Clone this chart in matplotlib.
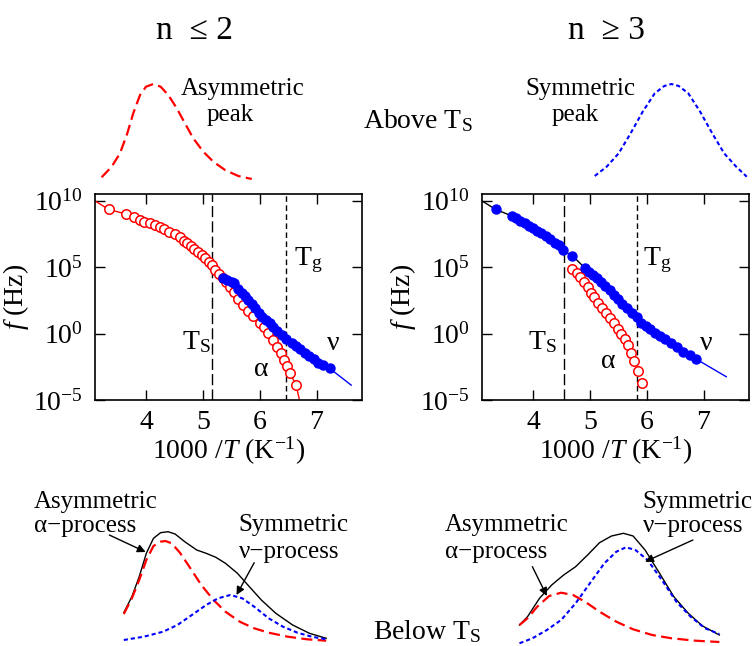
import matplotlib
matplotlib.use('Agg')
import matplotlib.pyplot as plt
import numpy as np

plt.rcParams['font.family'] = ['Liberation Serif', 'DejaVu Serif']
plt.rcParams['mathtext.fontset'] = 'custom'
plt.rcParams['mathtext.rm'] = 'Liberation Serif'
plt.rcParams['mathtext.it'] = 'Liberation Serif:italic'

# --- main panels: relaxation map, log10 f (Hz) vs 1000/T ---
# n <= 2 (left)
alpha_left_x = [3.34, 3.65, 3.78, 3.89, 3.97, 4.06, 4.15, 4.24, 4.32, 4.41, 4.50, 4.59, 4.67,
                4.72, 4.79, 4.85, 4.91, 4.98, 5.04, 5.11, 5.16, 5.22, 5.29, 5.35, 5.41, 5.47,
                5.54, 5.62, 5.71, 5.80, 5.89, 6.01, 6.08, 6.15, 6.23, 6.30, 6.37, 6.43, 6.48,
                6.53, 6.64]
alpha_left_logf = [9.34, 8.99, 8.74, 8.54, 8.41, 8.29, 8.16, 7.98, 7.84, 7.66, 7.48, 7.23, 6.98,
                   6.78, 6.58, 6.33, 6.15, 5.90, 5.65, 5.40, 5.15, 4.80, 4.50, 4.18, 3.85, 3.50,
                   3.10, 2.62, 2.14, 1.71, 1.31, 0.81, 0.46, 0.01, -0.49, -0.99, -1.49, -2.00,
                   -2.45, -2.95, -3.88]
alpha_left_fit_x = [3.10, 6.71]        # ends of the fit line beyond the data
alpha_left_fit_logf = [9.98, -5.20]

nu_left_x = [5.36, 5.43, 5.51, 5.55, 5.62, 5.68, 5.74, 5.80, 5.86, 5.92, 5.98, 6.04, 6.11,
             6.18, 6.24, 6.31, 6.39, 6.47, 6.56, 6.64, 6.71, 6.79, 6.87, 6.95, 7.03, 7.12, 7.23]
nu_left_logf = [4.15, 4.02, 3.89, 3.77, 3.32, 3.07, 2.82, 2.52, 2.22, 1.89, 1.56, 1.26, 1.01,
                0.76, 0.46, 0.21, -0.12, -0.44, -0.74, -0.94, -1.19, -1.45, -1.70, -1.95,
                -2.20, -2.37, -2.62]
nu_left_fit_x = [7.61]
nu_left_fit_logf = [-3.88]

ts_left, tg_left = 5.16, 6.46

# n >= 3 (right)
nu_right_x = [3.34, 3.63, 3.70, 3.77, 3.85, 3.92, 3.99, 4.07, 4.14, 4.22, 4.29, 4.38, 4.45,
              4.52, 4.69, 4.92, 4.99, 5.06, 5.12, 5.19, 5.27, 5.35, 5.42, 5.49, 5.56, 5.65,
              5.74, 5.82, 5.90, 5.98, 6.06, 6.15, 6.24, 6.33, 6.42, 6.53, 6.64, 6.76, 6.87]
nu_right_logf = [9.34, 8.84, 8.66, 8.48, 8.29, 8.08, 7.91, 7.73, 7.54, 7.33, 7.13, 6.83, 6.63,
                 6.25, 5.86, 4.90, 4.65, 4.40, 4.15, 3.89, 3.57, 3.27, 2.89, 2.57, 2.22, 1.89,
                 1.52, 1.22, 0.81, 0.56, 0.31, 0.06, -0.19, -0.44, -0.70, -1.00, -1.37, -1.62,
                 -1.92]
nu_right_fit_x = [3.10, 7.40]
nu_right_fit_logf = [9.98, -3.25]

alpha_right_x = [4.69, 4.77, 4.83, 4.90, 4.96, 5.02, 5.08, 5.15, 5.22, 5.29, 5.36, 5.43, 5.49,
                 5.55, 5.61, 5.67, 5.73, 5.78, 5.84, 5.92]
alpha_right_logf = [4.83, 4.52, 4.22, 3.85, 3.47, 3.07, 2.72, 2.32, 1.92, 1.56, 1.19, 0.76,
                    0.36, -0.06, -0.44, -0.89, -1.45, -2.05, -2.80, -3.72]

ts_right, tg_right = 4.55, 5.83

# --- schematic loss peaks (log frequency 0..10, loss in arbitrary units) ---
top_asym_x = [0.39, 0.98, 1.47, 1.90, 2.25, 2.65, 3.00, 3.43, 3.86, 4.31, 4.81, 5.29, 5.78,
              6.37, 6.96, 7.65, 8.43, 9.22]
top_asym_y = [0.047, 0.153, 0.287, 0.487, 0.687, 0.870, 0.953, 0.980, 0.953, 0.870, 0.737,
              0.587, 0.437, 0.303, 0.203, 0.120, 0.060, 0.030]
top_sym_x = [0.75, 1.45, 2.16, 2.86, 3.57, 4.28, 4.84, 5.26, 5.69, 6.25, 6.95, 7.66, 8.36,
             9.07, 9.69]
top_sym_y = [0.060, 0.153, 0.287, 0.487, 0.703, 0.887, 0.960, 0.980, 0.960, 0.887, 0.703,
             0.487, 0.287, 0.153, 0.053]

bl_alpha_x = [0.60, 0.95, 1.27, 1.58, 1.89, 2.20, 2.41, 2.68, 3.04, 3.45, 3.97, 4.50, 5.02,
              5.64, 6.27, 6.90, 7.73, 8.57, 9.40]
bl_alpha_y = [0.310, 0.467, 0.650, 0.850, 0.990, 1.033, 1.040, 1.017, 0.923, 0.783, 0.600,
              0.450, 0.333, 0.233, 0.167, 0.123, 0.083, 0.057, 0.043]
bl_nu_x = [0.60, 1.47, 2.31, 2.93, 3.56, 4.18, 4.70, 5.23, 5.75, 6.27, 6.90, 7.52, 8.15, 8.77,
           9.40]
bl_nu_y = [0.050, 0.083, 0.133, 0.200, 0.300, 0.400, 0.467, 0.500, 0.467, 0.383, 0.267, 0.183,
           0.123, 0.083, 0.057]
bl_sum_x = [0.60, 0.95, 1.27, 1.58, 1.89, 2.20, 2.52, 2.83, 3.25, 3.77, 4.18, 4.60, 5.02, 5.54,
            6.06, 6.58, 7.21, 7.94, 8.67, 9.40]
bl_sum_y = [0.323, 0.483, 0.683, 0.917, 1.067, 1.123, 1.133, 1.110, 1.033, 0.950, 0.917, 0.877,
            0.817, 0.717, 0.583, 0.450, 0.317, 0.200, 0.117, 0.067]

br_alpha_x = [0.63, 0.98, 1.40, 1.92, 2.44, 2.96, 3.48, 4.11, 4.84, 5.57, 6.40, 7.24, 8.28, 9.32]
br_alpha_y = [0.200, 0.267, 0.383, 0.490, 0.523, 0.500, 0.433, 0.333, 0.233, 0.157, 0.100,
              0.067, 0.043, 0.030]
br_nu_x = [0.63, 1.19, 1.82, 2.44, 3.07, 3.69, 4.32, 4.84, 5.26, 5.67, 6.20, 6.82, 7.45, 8.07,
           8.70, 9.32]
br_nu_y = [0.017, 0.067, 0.150, 0.250, 0.417, 0.617, 0.817, 0.933, 0.977, 0.950, 0.850, 0.650,
           0.433, 0.283, 0.167, 0.110]
br_sum_x = [0.63, 0.98, 1.50, 2.03, 2.55, 3.07, 3.59, 4.11, 4.63, 5.15, 5.57, 6.09, 6.72, 7.34,
            7.97, 8.59, 9.32]
br_sum_y = [0.200, 0.283, 0.467, 0.600, 0.700, 0.783, 0.900, 1.023, 1.090, 1.117, 1.090, 0.950,
            0.717, 0.483, 0.317, 0.190, 0.100]

RED = '#ff0000'
BLUE = '#0000ff'
LONG_DASH = (0, (5.0, 2.4))
SHORT_DASH = (0, (2.0, 1.4))
FS = 18       # annotation text
AXFS = 20     # axis labels / ticks / in-plot labels

fig = plt.figure(figsize=(7.52, 6.46), dpi=100)


def relax_axes(rect):
    ax = fig.add_axes(rect)
    ax.set_yscale('log')
    ax.set_xlim(3.1, 7.8)
    ax.set_ylim(1e-5, 10 ** 10.5)
    ax.set_xticks([4, 5, 6, 7])
    ax.set_yticks([1e-5, 1e0, 1e5, 1e10])
    ax.yaxis.set_minor_locator(matplotlib.ticker.NullLocator())
    ax.tick_params(direction='in', length=7, width=1, top=True, right=True,
                   labelsize=AXFS, pad=7)
    ax.tick_params(axis='y', pad=9)
    for s in ax.spines.values():
        s.set_linewidth(1.2)
    ax.set_xlabel(r'1000 /$T$ (K$^{-1}$)', fontsize=AXFS, labelpad=0)
    ax.set_ylabel(r'$f$ (Hz)', fontsize=AXFS, labelpad=1)
    return ax


def tlabels(ax, ts_xy, tg_xy, a_xy, n_xy):
    kw = dict(transform=ax.transAxes, fontsize=AXFS, ha='center', va='center')
    ax.text(*ts_xy, r'T$_\mathrm{S}$', **kw)
    ax.text(*tg_xy, r'T$_\mathrm{g}$', **kw)
    ax.text(*a_xy, 'α', **kw)
    ax.text(*n_xy, 'ν', **kw)


# left relaxation map
axL = relax_axes([95 / 752, 246 / 646, 267 / 752, 206 / 646])
axL.axvline(ts_left, color='k', lw=1, ls=(0, (8, 3)))
axL.axvline(tg_left, color='k', lw=1, ls=(0, (4, 2.5)))
axL.plot([alpha_left_fit_x[0]] + alpha_left_x + [alpha_left_fit_x[1]],
         10 ** np.array([alpha_left_fit_logf[0]] + alpha_left_logf + [alpha_left_fit_logf[1]]),
         color=RED, lw=1, zorder=2)
axL.plot(nu_left_x + nu_left_fit_x, 10 ** np.array(nu_left_logf + nu_left_fit_logf),
         color=BLUE, lw=1, zorder=2)
axL.plot(alpha_left_x, 10 ** np.array(alpha_left_logf), 'o', ms=6.8, mfc='white', mec=RED,
         mew=1.1, zorder=3)
axL.plot(nu_left_x, 10 ** np.array(nu_left_logf), 'o', ms=6.5, color=BLUE, zorder=4)
tlabels(axL, (0.381, 0.283), (0.799, 0.680), (0.624, 0.146), (0.893, 0.275))

# right relaxation map
axR = relax_axes([482 / 752, 246 / 646, 267 / 752, 206 / 646])
axR.axvline(ts_right, color='k', lw=1, ls=(0, (8, 3)))
axR.axvline(tg_right, color='k', lw=1, ls=(0, (4, 2.5)))
axR.plot([nu_right_fit_x[0]] + nu_right_x,
         10 ** np.array([nu_right_fit_logf[0]] + nu_right_logf), color='k', lw=1, zorder=2)
axR.plot([nu_right_x[-1], nu_right_fit_x[1]],
         10 ** np.array([nu_right_logf[-1], nu_right_fit_logf[1]]), color=BLUE, lw=1, zorder=2)
axR.plot(alpha_right_x, 10 ** np.array(alpha_right_logf), 'o', ms=6.8, mfc='white', mec=RED,
         mew=1.1, zorder=3)
axR.plot(nu_right_x, 10 ** np.array(nu_right_logf), 'o', ms=6.5, color=BLUE, zorder=4)
tlabels(axR, (0.227, 0.283), (0.658, 0.680), (0.471, 0.186), (0.839, 0.275))


def sketch_axes(rect, ylim):
    ax = fig.add_axes(rect)
    ax.set_xlim(0, 10)
    ax.set_ylim(*ylim)
    ax.axis('off')
    return ax


# peaks above Ts
axTL = sketch_axes([95 / 752, 464 / 646, 170 / 752, 102 / 646], (0, 1.02))
axTL.plot(top_asym_x, top_asym_y, color=RED, lw=1.6, ls=LONG_DASH, clip_on=False)
axTR = sketch_axes([582 / 752, 464 / 646, 170 / 752, 102 / 646], (0, 1.02))
axTR.plot(top_sym_x, top_sym_y, color=BLUE, lw=1.5, ls=SHORT_DASH, clip_on=False)

# peaks below Ts
arrow = dict(arrowstyle='-|>', color='k', lw=1, mutation_scale=12, shrinkA=0, shrinkB=0)
axBL = sketch_axes([110 / 752, 1 / 646, 230 / 752, 125 / 646], (0, 1.25))
axBL.plot(bl_sum_x, bl_sum_y, color='k', lw=1, clip_on=False)
axBL.plot(bl_alpha_x, bl_alpha_y, color=RED, lw=1.6, ls=LONG_DASH, clip_on=False)
axBL.plot(bl_nu_x, bl_nu_y, color=BLUE, lw=1.5, ls=SHORT_DASH, clip_on=False)
axBL.annotate('', xy=(1.55, 0.93), xytext=(-0.03, 1.10), arrowprops=arrow, annotation_clip=False)
axBL.annotate('', xy=(5.5, 0.50), xytext=(6.27, 0.823), arrowprops=arrow, annotation_clip=False)

axBR = sketch_axes([505 / 752, 1 / 646, 230 / 752, 125 / 646], (0, 1.25))
axBR.plot(br_sum_x, br_sum_y, color='k', lw=1, clip_on=False)
axBR.plot(br_alpha_x, br_alpha_y, color=RED, lw=1.6, ls=LONG_DASH, clip_on=False)
axBR.plot(br_nu_x, br_nu_y, color=BLUE, lw=1.5, ls=SHORT_DASH, clip_on=False)
axBR.annotate('', xy=(1.82, 0.49), xytext=(1.19, 0.783), arrowprops=arrow, annotation_clip=False)
axBR.annotate('', xy=(6.09, 0.833), xytext=(8.17, 1.05), arrowprops=arrow, annotation_clip=False)

# figure texts
fig.text(0.258, 0.952, 'n  ≤ 2', fontsize=24, ha='center', va='center')
fig.text(0.807, 0.952, 'n  ≥ 3', fontsize=24, ha='center', va='center')
fig.text(0.322, 0.862, 'Asymmetric', fontsize=FS, ha='center', va='center')
fig.text(0.306, 0.822, 'peak', fontsize=FS, ha='center', va='center')
fig.text(0.772, 0.862, 'Symmetric', fontsize=FS, ha='center', va='center')
fig.text(0.765, 0.822, 'peak', fontsize=FS, ha='center', va='center')
fig.text(0.556, 0.813, r'Above T$_\mathrm{S}$', fontsize=AXFS, ha='center', va='center')
fig.text(0.568, 0.022, r'Below T$_\mathrm{S}$', fontsize=AXFS, ha='center', va='center')

fig.text(0.0447, 0.2234, 'Asymmetric', fontsize=FS, ha='left', va='center')
fig.text(0.0447, 0.1858, 'α−process', fontsize=FS, ha='left', va='center')
fig.text(0.3176, 0.1873, 'Symmetric', fontsize=FS, ha='left', va='center')
fig.text(0.3176, 0.1460, 'ν−process', fontsize=FS, ha='left', va='center')
fig.text(0.5918, 0.1873, 'Asymmetric', fontsize=FS, ha='left', va='center')
fig.text(0.5918, 0.1460, 'α−process', fontsize=FS, ha='left', va='center')
fig.text(0.8547, 0.2234, 'Symmetric', fontsize=FS, ha='left', va='center')
fig.text(0.8547, 0.1858, 'ν−process', fontsize=FS, ha='left', va='center')

fig.savefig('out.png', dpi=100)
